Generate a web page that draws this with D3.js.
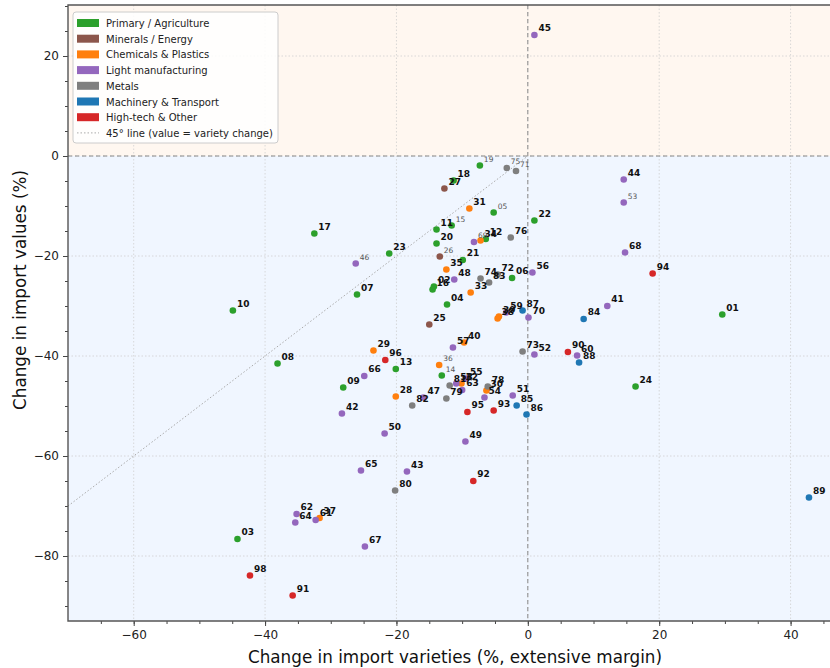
<!DOCTYPE html>
<html lang="en">
  <head>
    <meta charset="utf-8">
    <script src="https://cdn.jsdelivr.net/npm/d3@7"></script>
    <title>Import values vs varieties</title>
    <style>
      body { margin: 0; background: #fff; }
      svg { font-family: "DejaVu Sans", sans-serif; display: block; }
    </style>
  </head>
  <body>
    <script type="text/javascript">
      // HS chapter codes, change in varieties (x) and change in values (y)
      var codes = ["01","02","03","04","05","06","07","08","09","10",
                   "11","12","13","14","15","16","17","18","19","20",
                   "21","22","23","24","25","26","27","28","29","30",
                   "31","32","33","34","35","36","37","38","39","40",
                   "41","42","43","44","45","46","47","48","49","50",
                   "51","52","53","54","55","56","57","58","59","60",
                   "61","62","63","64","65","66","67","68","69","70",
                   "71","72","73","74","75","76","78","79","80","81",
                   "82","83","84","85","86","87","88","89","90","91",
                   "92","93","94","95","96","98"];
      var varietyChange = [29.6,-14.3,-44.2,-12.3,-5.2,-2.4,-26.0,-38.1,-28.1,-44.9,
                           -13.9,-6.4,-20.1,-13.1,-11.6,-14.5,-32.5,-11.3,-7.3,-13.9,
                           -9.9,1.0,-21.1,16.4,-15.0,-13.4,-12.7,-20.1,-23.5,-6.3,
                           -8.9,-10.1,-8.7,-7.2,-12.4,-13.5,-31.7,-4.6,-4.4,-9.7,
                           12.1,-28.3,-18.4,14.6,1.0,-26.2,-15.9,-11.2,-9.5,-21.8,
                           -2.3,1.0,14.6,-6.6,-9.4,0.7,-11.4,-10.9,-3.3,7.5,
                           -32.3,-35.2,-10.0,-35.4,-25.4,-24.9,-24.8,14.8,-8.2,0.1,
                           -1.8,-4.6,-0.8,-7.2,-3.2,-2.6,-6.1,-12.4,-20.2,-11.9,
                           -17.6,-5.9,8.5,-1.7,-0.2,-0.8,7.8,42.8,6.1,-35.8,
                           -8.3,-5.2,19.0,-9.2,-21.7,-42.3];
      var valueChange = [-31.7,-26.1,-76.6,-29.7,-11.3,-24.4,-27.7,-41.5,-46.3,-30.9,
                         -14.7,-16.6,-42.6,-43.9,-13.9,-26.7,-15.5,-4.9,-1.9,-17.5,
                         -20.8,-12.9,-19.5,-46.1,-33.7,-20.1,-6.5,-48.1,-38.9,-46.9,
                         -10.5,-45.5,-27.3,-16.9,-22.7,-41.8,-72.4,-32.5,-32.1,-37.3,
                         -30.0,-51.5,-63.1,-4.7,24.2,-21.5,-48.3,-24.7,-57.1,-55.5,
                         -47.9,-39.7,-9.3,-48.3,-44.5,-23.3,-38.3,-45.5,-31.3,-39.9,
                         -72.8,-71.6,-46.8,-73.3,-62.9,-44.0,-78.1,-19.3,-17.2,-32.3,
                         -3.0,-23.7,-39.1,-24.5,-2.4,-16.3,-46.1,-48.5,-66.9,-45.9,
                         -49.9,-25.3,-32.6,-49.9,-51.7,-30.9,-41.3,-68.3,-39.2,-87.9,
                         -65.0,-50.9,-23.5,-51.2,-40.8,-83.9];
      // chapters with small trade share get a small grey label
      var minorCodes = ["05","14","15","19","26","36","46","53","69","71","75"];

      // sectors and the first chapter of each
      var sectors = ["Primary / Agriculture", "Minerals / Energy", "Chemicals & Plastics",
                     "Light manufacturing", "Metals", "Machinery & Transport", "High-tech & Other"];
      var sectorStart = [1, 25, 28, 41, 71, 84, 90];
      var sectorColors = ["#2ca02c", "#8c564b", "#ff7f0e", "#9467bd", "#7f7f7f", "#1f77b4", "#d62728"];

      var xTicks = [-60, -40, -20, 0, 20, 40];
      var yTicks = [-80, -60, -40, -20, 0, 20];

      var w = 830;
      var h = 668;
      var plot = { left: 68, right: 830, top: 5, bottom: 621 };

      var svg = d3.select("body").append("svg")
        .attr("width", w)
        .attr("height", h);

      var xscale = d3.scaleLinear().domain([-70, 46]).range([plot.left, plot.right]);
      var yscale = d3.scaleLinear().domain([-93, 30.2]).range([plot.bottom, plot.top]);

      function sectorOf(code) {
        var n = +code, s = 0;
        sectorStart.forEach(function(start, i) { if (n >= start) s = i; });
        return s;
      }

      var points = codes.map(function(c, i) {
        return { code: c, x: varietyChange[i], y: valueChange[i], sector: sectorOf(c),
                 minor: minorCodes.indexOf(c) >= 0 };
      });

      // background bands above / below zero
      svg.append("rect")
        .attr("x", plot.left).attr("y", plot.top)
        .attr("width", plot.right - plot.left).attr("height", yscale(0) - plot.top)
        .attr("fill", "#fff7f0");
      svg.append("rect")
        .attr("x", plot.left).attr("y", yscale(0))
        .attr("width", plot.right - plot.left).attr("height", plot.bottom - yscale(0))
        .attr("fill", "#f0f6ff");

      // dotted grid
      var grid = svg.append("g").attr("stroke", "#cfcfcf").attr("stroke-width", 0.8)
        .attr("stroke-dasharray", "1.5,2");
      xTicks.forEach(function(t) {
        grid.append("line").attr("x1", xscale(t)).attr("x2", xscale(t))
          .attr("y1", plot.top).attr("y2", plot.bottom);
      });
      yTicks.forEach(function(t) {
        grid.append("line").attr("y1", yscale(t)).attr("y2", yscale(t))
          .attr("x1", plot.left).attr("x2", plot.right);
      });

      // zero reference lines
      svg.append("line")
        .attr("x1", xscale(0)).attr("x2", xscale(0)).attr("y1", plot.top).attr("y2", plot.bottom)
        .attr("stroke", "#888").attr("stroke-width", 1).attr("stroke-dasharray", "4,3");
      svg.append("line")
        .attr("x1", plot.left).attr("x2", plot.right).attr("y1", yscale(0)).attr("y2", yscale(0))
        .attr("stroke", "#888").attr("stroke-width", 1).attr("stroke-dasharray", "4,3");

      // 45 degree line
      svg.append("line")
        .attr("x1", xscale(-70)).attr("y1", yscale(-70))
        .attr("x2", xscale(0)).attr("y2", yscale(0))
        .attr("stroke", "#aaa").attr("stroke-width", 1).attr("stroke-dasharray", "1.5,2");

      // dots
      svg.append("g").selectAll("circle")
        .data(points)
        .enter()
        .append("circle")
        .attr("cx", function(d) { return xscale(d.x); })
        .attr("cy", function(d) { return yscale(d.y); })
        .attr("r", 3.3)
        .attr("fill", function(d) { return sectorColors[d.sector]; });

      // labels
      svg.append("g").selectAll("text")
        .data(points)
        .enter()
        .append("text")
        .attr("x", function(d) { return xscale(d.x) + 4; })
        .attr("y", function(d) { return yscale(d.y) - 4; })
        .attr("font-size", function(d) { return d.minor ? 7.5 : 9; })
        .attr("font-weight", function(d) { return d.minor ? "normal" : "bold"; })
        .attr("fill", function(d) { return d.minor ? "#555" : "#111"; })
        .text(function(d) { return d.code; });

      // axes
      var xaxis = d3.axisBottom(xscale).tickValues(xTicks).tickSize(5).tickPadding(4)
        .tickFormat(function(d) { return d < 0 ? "\u2212" + Math.abs(d) : d; });
      var yaxis = d3.axisLeft(yscale).tickValues(yTicks).tickSize(5).tickPadding(4)
        .tickFormat(function(d) { return d < 0 ? "\u2212" + Math.abs(d) : d; });
      var xminor = d3.axisBottom(xscale).tickValues(d3.range(-65, 46, 5)).tickSize(3).tickFormat("");
      var yminor = d3.axisLeft(yscale).tickValues(d3.range(-90, 31, 5)).tickSize(3).tickFormat("");

      [xminor, xaxis].forEach(function(a) {
        svg.append("g").attr("transform", "translate(0," + plot.bottom + ")").call(a)
          .call(function(g) { g.select(".domain").remove(); });
      });
      [yminor, yaxis].forEach(function(a) {
        svg.append("g").attr("transform", "translate(" + plot.left + ",0)").call(a)
          .call(function(g) { g.select(".domain").remove(); });
      });
      svg.selectAll(".tick line").attr("stroke", "#444");
      svg.selectAll(".tick text").attr("font-size", 12).attr("fill", "#222")
        .attr("font-family", "DejaVu Sans, sans-serif");

      // spines
      svg.append("path")
        .attr("d", "M" + plot.right + "," + plot.top + "H" + plot.left + "V" + plot.bottom + "H" + plot.right)
        .attr("fill", "none").attr("stroke", "#555").attr("stroke-width", 1.4);

      // axis titles
      svg.append("text")
        .attr("x", 455).attr("y", 663)
        .attr("text-anchor", "middle").attr("font-size", 16.8).attr("fill", "#111")
        .text("Change in import varieties (%, extensive margin)");
      svg.append("text")
        .attr("transform", "translate(26,290) rotate(-90)")
        .attr("text-anchor", "middle").attr("font-size", 16.8).attr("fill", "#111")
        .text("Change in import values (%)");

      // legend
      var legend = svg.append("g").attr("transform", "translate(73,12)");
      legend.append("rect")
        .attr("width", 205).attr("height", 131).attr("rx", 3)
        .attr("fill", "#fff").attr("fill-opacity", 0.85).attr("stroke", "#ccc");
      sectors.forEach(function(s, i) {
        var row = legend.append("g").attr("transform", "translate(0," + (11 + i * 15.7) + ")");
        row.append("rect").attr("x", 4).attr("y", -4).attr("width", 22).attr("height", 8)
          .attr("fill", sectorColors[i]);
        row.append("text").attr("x", 33).attr("y", 4).attr("font-size", 10).attr("fill", "#222")
          .text(s);
      });
      var lastRow = legend.append("g").attr("transform", "translate(0," + (11 + 7 * 15.7) + ")");
      lastRow.append("line").attr("x1", 4).attr("x2", 26).attr("y1", 0).attr("y2", 0)
        .attr("stroke", "#aaa").attr("stroke-dasharray", "1.5,2");
      lastRow.append("text").attr("x", 33).attr("y", 4).attr("font-size", 10).attr("fill", "#222")
        .text("45\u00b0 line (value = variety change)");
    </script>
  </body>
</html>
